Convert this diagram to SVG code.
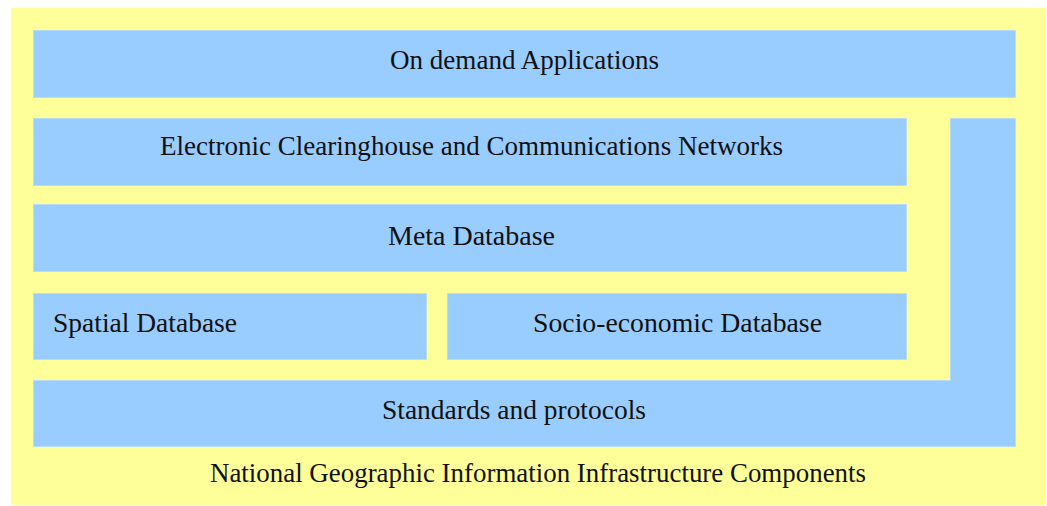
<svg xmlns="http://www.w3.org/2000/svg" width="1047" height="506" viewBox="0 0 1047 506">
<style>
.bg{fill:#ffff99}
.box{fill:#99ccff;stroke:#b8dcf5;stroke-width:1}
.t{font-family:"Liberation Serif","Times New Roman",serif;font-size:27.5px;fill:#111}
</style>
<rect class="bg" x="11" y="8" width="1035" height="497"/>
<g id="applications">
<rect class="box" x="33.5" y="30.5" width="982" height="67"/>
<text class="t" x="390" y="69" textLength="269" lengthAdjust="spacingAndGlyphs">On demand Applications</text>
</g>
<g id="clearinghouse">
<rect class="box" x="33.5" y="118.5" width="873" height="67"/>
<text class="t" x="160" y="155" textLength="623" lengthAdjust="spacingAndGlyphs">Electronic Clearinghouse and Communications Networks</text>
</g>
<g id="meta">
<rect class="box" x="33.5" y="204.5" width="873" height="67"/>
<text class="t" x="388" y="245" textLength="167" lengthAdjust="spacingAndGlyphs">Meta Database</text>
</g>
<g id="spatial">
<rect class="box" x="33.5" y="293.5" width="393" height="66"/>
<text class="t" x="53" y="332" textLength="184" lengthAdjust="spacingAndGlyphs">Spatial Database</text>
</g>
<g id="socio">
<rect class="box" x="447.5" y="293.5" width="459" height="66"/>
<text class="t" x="533" y="332" textLength="289" lengthAdjust="spacingAndGlyphs">Socio-economic Database</text>
</g>
<g id="standards">
<path class="box" d="M950.5 118.5 H1015.5 V446.5 H33.5 V380.5 H950.5 Z"/>
<text class="t" x="382" y="419" textLength="264" lengthAdjust="spacingAndGlyphs">Standards and protocols</text>
</g>
<g id="nadi">
<text class="t" x="210" y="482" textLength="656" lengthAdjust="spacingAndGlyphs">National Geographic Information Infrastructure Components</text>
</g>
<g id="connectors"></g>
</svg>
